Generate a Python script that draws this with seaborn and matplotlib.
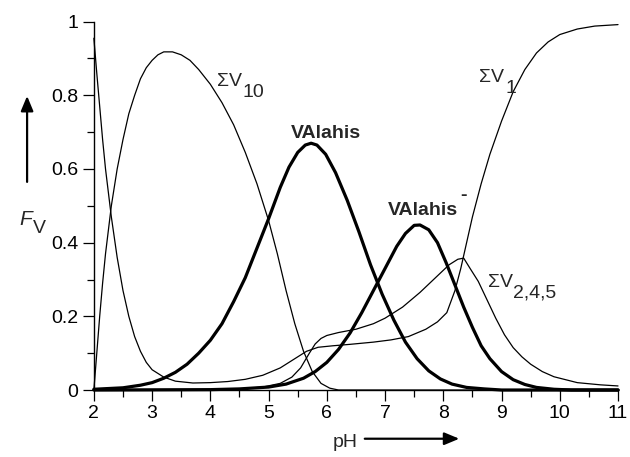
import numpy as np
import pandas as pd
import matplotlib
matplotlib.use("Agg")
import matplotlib.pyplot as plt
import seaborn as sns
from matplotlib.ticker import MultipleLocator

# ---- data ----
sv1_ph = [2.0, 2.05, 2.1, 2.15, 2.2, 2.3, 2.4, 2.5, 2.6, 2.7, 2.8, 2.9, 3.0, 3.2, 3.4, 3.7,
          4.0, 4.3, 4.6, 4.9, 5.2, 5.45, 5.65, 5.85, 6.1, 6.4, 6.8, 7.1, 7.4, 7.7, 7.9, 8.06,
          8.2, 8.3, 8.4, 8.5, 8.65, 8.8, 9.0, 9.2, 9.4, 9.6, 9.8, 10.0, 10.3, 10.6, 11.0]
sv1 = [0.955, 0.86, 0.77, 0.68, 0.6, 0.47, 0.36, 0.27, 0.2, 0.145, 0.105, 0.075, 0.055, 0.035,
       0.024, 0.019, 0.02, 0.023, 0.029, 0.04, 0.06, 0.085, 0.105, 0.116, 0.12, 0.124, 0.13,
       0.136, 0.145, 0.165, 0.185, 0.21, 0.27, 0.33, 0.4, 0.47, 0.56, 0.64, 0.73, 0.81, 0.87,
       0.915, 0.945, 0.965, 0.98, 0.988, 0.992]

sv10_ph = [2.0, 2.05, 2.1, 2.15, 2.2, 2.3, 2.4, 2.5, 2.6, 2.7, 2.8, 2.9, 3.0, 3.1, 3.2, 3.35,
           3.5, 3.65, 3.8, 4.0, 4.2, 4.4, 4.6, 4.8, 5.0, 5.15, 5.3, 5.45, 5.6, 5.75, 5.9, 6.05,
           6.2, 11.0]
sv10 = [0.0, 0.1, 0.2, 0.29, 0.37, 0.5, 0.6, 0.68, 0.75, 0.8, 0.845, 0.875, 0.895, 0.91, 0.918,
        0.918, 0.91, 0.895, 0.87, 0.83, 0.78, 0.72, 0.645, 0.56, 0.46, 0.37, 0.27, 0.18, 0.105,
        0.05, 0.018, 0.005, 0.0, 0.0]

val_ph = [2.0, 2.5, 2.8, 3.0, 3.2, 3.4, 3.6, 3.8, 4.0, 4.2, 4.4, 4.6, 4.8, 5.0, 5.2, 5.35, 5.5,
          5.63, 5.73, 5.83, 5.98, 6.15, 6.35, 6.55, 6.75, 6.95, 7.15, 7.35, 7.55, 7.75, 7.95,
          8.15, 8.4, 8.7, 9.0, 11.0]
val = [0.002, 0.006, 0.013, 0.02, 0.032, 0.048, 0.07, 0.1, 0.135, 0.18, 0.24, 0.305, 0.385, 0.465,
       0.55, 0.605, 0.645, 0.665, 0.67, 0.665, 0.64, 0.59, 0.515, 0.43, 0.34, 0.26, 0.19, 0.13,
       0.085, 0.052, 0.03, 0.016, 0.007, 0.003, 0.0, 0.0]

valm_ph = [2.0, 4.0, 4.5, 5.0, 5.3, 5.6, 5.8, 6.0, 6.2, 6.4, 6.6, 6.8, 7.0, 7.2, 7.35, 7.5, 7.6,
           7.75, 7.9, 8.05, 8.2, 8.35, 8.5, 8.65, 8.8, 9.0, 9.2, 9.4, 9.6, 9.9, 10.2, 11.0]
valm = [0.0, 0.001, 0.003, 0.008, 0.016, 0.032, 0.05, 0.075, 0.11, 0.155, 0.21, 0.27, 0.33, 0.39,
        0.425, 0.447, 0.448, 0.435, 0.4, 0.345, 0.285, 0.225, 0.17, 0.12, 0.085, 0.05, 0.028,
        0.015, 0.007, 0.002, 0.0, 0.0]

sv245_ph = [2.0, 4.0, 4.5, 4.9, 5.2, 5.4, 5.55, 5.7, 5.8, 5.9, 6.0, 6.2, 6.5, 6.8, 7.0, 7.3, 7.6,
            7.9, 8.1, 8.25, 8.35, 8.46, 8.6, 8.75, 8.9, 9.05, 9.2, 9.35, 9.5, 9.7, 9.9, 10.3,
            10.7, 11.0]
sv245 = [0.0, 0.001, 0.003, 0.008, 0.018, 0.035, 0.06, 0.1, 0.125, 0.14, 0.148, 0.156, 0.165,
         0.18, 0.195, 0.225, 0.265, 0.31, 0.34, 0.355, 0.358, 0.33, 0.295, 0.245, 0.195, 0.15,
         0.115, 0.09, 0.07, 0.05, 0.036, 0.02, 0.014, 0.011]

x_ticks = [2, 3, 4, 5, 6, 7, 8, 9, 10, 11]
y_ticks = [0, 0.2, 0.4, 0.6, 0.8, 1]
y_ticklabels = ["0", "0.2", "0.4", "0.6", "0.8", "1"]

sns.set_theme(style="ticks")
plt.rcParams['font.family'] = ['Liberation Sans', 'DejaVu Sans']

fig = plt.figure(figsize=(6.3, 4.57), dpi=100)
ax = fig.add_axes([0.149, 0.1466, 0.832, 0.806])

thin, thick = 0.9, 2.3
for ph, v, lw in [(sv1_ph, sv1, thin), (sv10_ph, sv10, thin), (sv245_ph, sv245, thin),
                  (val_ph, val, thick), (valm_ph, valm, thick)]:
    df = pd.DataFrame({"pH": ph, "F": v})
    sns.lineplot(data=df, x="pH", y="F", ax=ax, color="black", lw=lw,
                 sort=False, estimator=None, clip_on=False)

ax.set_xlim(2, 11)
ax.set_ylim(0, 1)
ax.set_xticks(x_ticks)
ax.set_xticklabels([str(t) for t in x_ticks])
ax.set_yticks(y_ticks)
ax.set_yticklabels(y_ticklabels)
ax.xaxis.set_minor_locator(MultipleLocator(0.5))
ax.yaxis.set_minor_locator(MultipleLocator(0.1))
ax.tick_params(which="major", length=8, width=0.9, color="black", labelsize=14, pad=3,
               labelcolor="black")
ax.tick_params(which="minor", length=5, width=0.9, color="black")
for s in ["top", "right"]:
    ax.spines[s].set_visible(False)
for s in ["left", "bottom"]:
    ax.spines[s].set_linewidth(1.0)
    ax.spines[s].set_color("black")
ax.set_xlabel("")
ax.set_ylabel("")

fs = 14
# curve labels
ax.text(4.11, 0.825, "ΣV", fontsize=fs, va="baseline", ha="left")
ax.text(4.56, 0.795, "10", fontsize=fs, va="baseline", ha="left")
ax.text(8.62, 0.835, "ΣV", fontsize=fs, va="baseline", ha="left")
ax.text(9.07, 0.805, "1", fontsize=fs, va="baseline", ha="left")
ax.text(8.77, 0.28, "ΣV", fontsize=fs, va="baseline", ha="left")
ax.text(9.2, 0.25, "2,4,5", fontsize=fs, va="baseline", ha="left")
ax.text(5.99, 0.685, "VAlahis", fontsize=fs, fontweight="bold", va="baseline", ha="center")
ax.text(7.05, 0.474, "VAlahis", fontsize=fs, fontweight="bold", va="baseline", ha="left")
ax.text(8.29, 0.515, "-", fontsize=fs, fontweight="bold", va="baseline", ha="left")

# axis labels with arrows
fig.text(0.030, 0.508, "F", fontsize=fs + 1, style="italic", va="baseline", ha="left")
fig.text(0.052, 0.49, "V", fontsize=fs, va="baseline", ha="left")
fig.add_artist(matplotlib.patches.FancyArrowPatch(
    (0.043, 0.602), (0.043, 0.79), transform=fig.transFigure,
    arrowstyle="-|>,head_length=6,head_width=2.5", lw=1.6, color="black",
    shrinkA=0, shrinkB=0, mutation_scale=1.5))
fig.text(0.548, 0.022, "pH", fontsize=fs, va="baseline", ha="center")
fig.add_artist(matplotlib.patches.FancyArrowPatch(
    (0.579, 0.04), (0.729, 0.04), transform=fig.transFigure,
    arrowstyle="-|>,head_length=6,head_width=2.5", lw=1.6, color="black",
    shrinkA=0, shrinkB=0, mutation_scale=1.5))

fig.savefig("out.png", dpi=100)
